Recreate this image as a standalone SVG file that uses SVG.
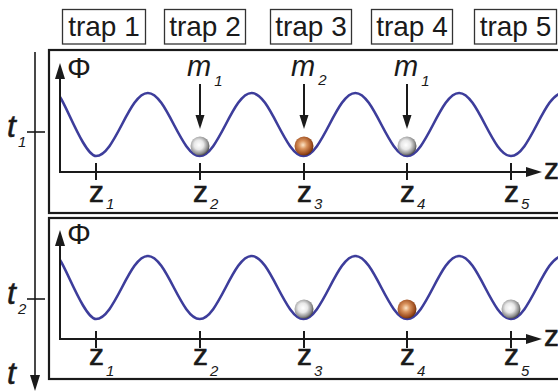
<svg xmlns="http://www.w3.org/2000/svg" xmlns:xlink="http://www.w3.org/1999/xlink" width="558" height="392" viewBox="0 0 558 392">
<style>
text{font-family:"Liberation Sans",Arial,sans-serif;fill:#1a1a1a}
.trap{fill:#fff;stroke:#333;stroke-width:1.3}
.tl{font-size:28px;text-anchor:middle}
.panel{fill:#fff;stroke:#1a1a1a;stroke-width:2.2}
.axis{stroke:#1a1a1a;stroke-width:2;fill:none}
.tick{stroke:#1a1a1a;stroke-width:2}
.well{fill:none;stroke:#3d3d9b;stroke-width:2.6}
.zl{font-size:30px;stroke:#1a1a1a;stroke-width:0.6}
.phi{font-size:30px}
.sub{font-size:15px;font-style:italic;stroke:none}
.it{font-size:29px;font-style:italic}
.tt{font-size:32px;font-style:italic;stroke:#1a1a1a;stroke-width:0.5}
.ptr{stroke:#1a1a1a;stroke-width:2}
</style>
<defs>
<marker id="ah" markerUnits="userSpaceOnUse" markerWidth="16" markerHeight="10" refX="6" refY="5" orient="auto-start-reverse"><path d="M0,0 L16,5 L0,10 z" fill="#1a1a1a"/></marker>
<marker id="ahs" markerUnits="userSpaceOnUse" markerWidth="14" markerHeight="10" refX="5" refY="5" orient="auto"><path d="M0,0.5 L14,5 L0,9.5 z" fill="#1a1a1a"/></marker>
<radialGradient id="gw" cx="0.42" cy="0.42" r="0.62" fx="0.45" fy="0.45"><stop offset="0" stop-color="#fff"/><stop offset="0.4" stop-color="#e8e8e8"/><stop offset="0.8" stop-color="#8a8a8a"/><stop offset="1" stop-color="#3a3a3a"/></radialGradient>
<radialGradient id="gb" cx="0.42" cy="0.42" r="0.62" fx="0.45" fy="0.45"><stop offset="0" stop-color="#fde6c8"/><stop offset="0.35" stop-color="#d9925c"/><stop offset="0.8" stop-color="#9a4a1c"/><stop offset="1" stop-color="#5a2808"/></radialGradient>
<path id="well" d="M60,97 C67,107 85,156 96,156 C114.85,156 129.03,93 147.88,93 C166.73,93 180.9,156 199.75,156 C218.6,156 232.78,93 251.63,93 C270.48,93 284.65,156 303.5,156 C322.35,156 336.53,93 355.38,93 C374.23,93 388.4,156 407.25,156 C426.1,156 440.28,93 459.13,93 C477.98,93 492.15,156 511,156 C529.85,156 544.03,93 562.88,93"/>
</defs>

<g id="trap1"><rect class="trap" x="62.5" y="9.5" width="83" height="34.5"/><text class="tl" x="104" y="36">trap 1</text></g>
<g id="trap2"><rect class="trap" x="164.5" y="9.5" width="81" height="34.5"/><text class="tl" x="205" y="36">trap 2</text></g>
<g id="trap3"><rect class="trap" x="270.5" y="9.5" width="81" height="34.5"/><text class="tl" x="311" y="36">trap 3</text></g>
<g id="trap4"><rect class="trap" x="371.5" y="9.5" width="81" height="34.5"/><text class="tl" x="412" y="36">trap 4</text></g>
<g id="trap5"><rect class="trap" x="474.5" y="9.5" width="82" height="34.5"/><text class="tl" x="515.5" y="36">trap 5</text></g>

<g id="time-axis">
<line class="ptr" x1="35" y1="52" x2="35" y2="381" style="stroke-width:1.6" marker-end="url(#ah)"/>
<line class="tick" x1="27" y1="132" x2="45" y2="132" style="stroke-width:1.6"/>
<line class="tick" x1="27" y1="299" x2="45" y2="299" style="stroke-width:1.6"/>
<text class="tt" x="7" y="137">t</text><text class="sub" x="18" y="147">1</text>
<text class="tt" x="7" y="304">t</text><text class="sub" x="18" y="314">2</text>
<text class="tt" x="7" y="384">t</text>
</g>

<g id="panel-t1">
<rect class="panel" x="49" y="50" width="530" height="163"/>
<use xlink:href="#well" href="#well" class="well"/>
<g class="tick"><line x1="96" y1="163" x2="96" y2="180"/><line x1="200" y1="163" x2="200" y2="180"/><line x1="304" y1="163" x2="304" y2="180"/><line x1="407" y1="163" x2="407" y2="180"/><line x1="511" y1="163" x2="511" y2="180"/></g>
<text class="phi" x="67" y="78">Φ</text>
<text class="zl" x="544" y="179">z</text>
<text class="zl" x="89" y="202">z<tspan class="sub" dx="2" dy="7">1</tspan></text>
<text class="zl" x="193" y="202">z<tspan class="sub" dx="2" dy="7">2</tspan></text>
<text class="zl" x="297" y="202">z<tspan class="sub" dx="2" dy="7">3</tspan></text>
<text class="zl" x="400" y="202">z<tspan class="sub" dx="2" dy="7">4</tspan></text>
<text class="zl" x="504" y="202">z<tspan class="sub" dx="2" dy="7">5</tspan></text>
<circle cx="200" cy="146" r="9.5" fill="url(#gw)"/>
<circle cx="304" cy="146" r="9.5" fill="url(#gb)"/>
<circle cx="407" cy="146" r="9.5" fill="url(#gw)"/>
<text class="it" x="187" y="76">m<tspan class="sub" dx="3" dy="10">1</tspan></text>
<text class="it" x="291" y="76">m<tspan class="sub" dx="3" dy="9">2</tspan></text>
<text class="it" x="394" y="76">m<tspan class="sub" dx="3" dy="10">1</tspan></text>
</g>

<g id="panel-t2">
<rect class="panel" x="49" y="218" width="530" height="161"/>
<use xlink:href="#well" href="#well" class="well" transform="translate(0,163)"/>
<g class="tick"><line x1="96" y1="331" x2="96" y2="348"/><line x1="200" y1="331" x2="200" y2="348"/><line x1="304" y1="331" x2="304" y2="348"/><line x1="407" y1="331" x2="407" y2="348"/><line x1="511" y1="331" x2="511" y2="348"/></g>
<text class="phi" x="67" y="244">Φ</text>
<text class="zl" x="544" y="346">z</text>
<text class="zl" x="89" y="365">z<tspan class="sub" dx="2" dy="11">1</tspan></text>
<text class="zl" x="193" y="365">z<tspan class="sub" dx="2" dy="11">2</tspan></text>
<text class="zl" x="297" y="365">z<tspan class="sub" dx="2" dy="11">3</tspan></text>
<text class="zl" x="400" y="365">z<tspan class="sub" dx="2" dy="11">4</tspan></text>
<text class="zl" x="504" y="365">z<tspan class="sub" dx="2" dy="11">5</tspan></text>
<circle cx="304" cy="309" r="9.5" fill="url(#gw)"/>
<circle cx="407" cy="309" r="9.5" fill="url(#gb)"/>
<circle cx="511" cy="309" r="9.5" fill="url(#gw)"/>
</g>

<g id="connectors">
<polyline class="axis" points="60,73 60,172 532,172" marker-start="url(#ah)" marker-end="url(#ah)"/>
<polyline class="axis" points="60,240 60,339 532,339" marker-start="url(#ah)" marker-end="url(#ah)"/>
<line class="ptr" x1="200" y1="84" x2="200" y2="120" marker-end="url(#ahs)"/>
<line class="ptr" x1="304" y1="84" x2="304" y2="120" marker-end="url(#ahs)"/>
<line class="ptr" x1="407" y1="84" x2="407" y2="120" marker-end="url(#ahs)"/>
</g>
</svg>
